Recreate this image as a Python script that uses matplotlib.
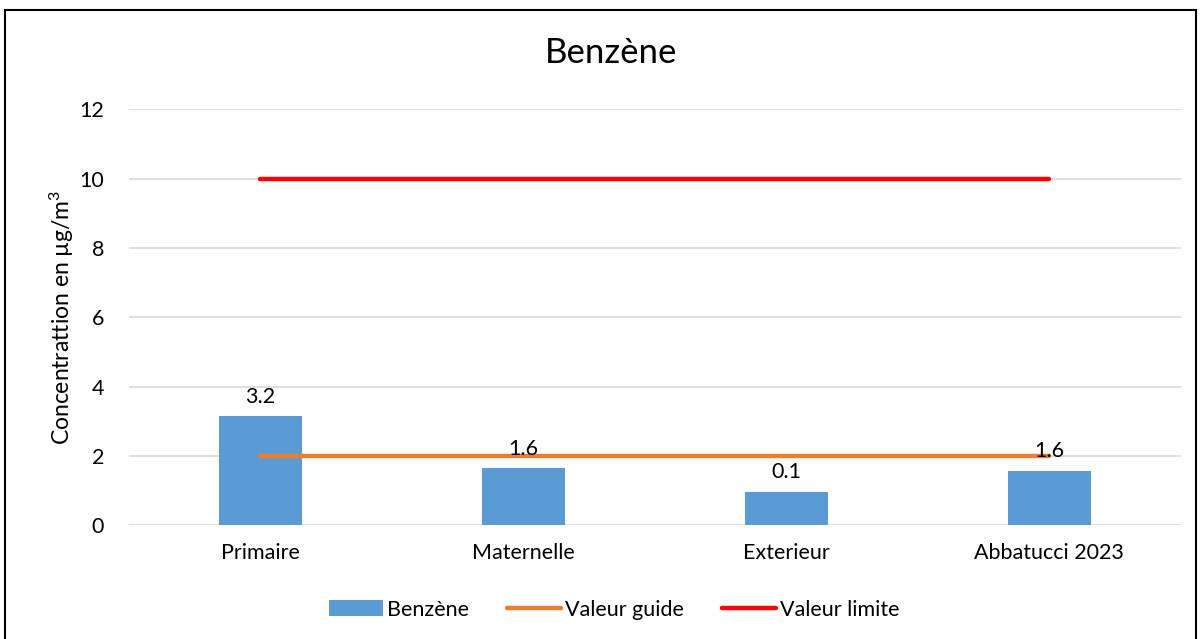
import matplotlib
matplotlib.use("Agg")
import matplotlib.pyplot as plt
from matplotlib.patches import Rectangle
import numpy as np

plt.rcParams['font.family'] = ['Lato', 'DejaVu Sans']
plt.rcParams['mathtext.fontset'] = 'custom'
plt.rcParams['mathtext.rm'] = 'Lato'
plt.rcParams['mathtext.it'] = 'Lato'

# donnees
sites = ["Primaire", "Maternelle", "Exterieur", "Abbatucci 2023"]
benzene = [3.14, 1.64, 0.96, 1.57]
etiquettes = ["3.2", "1.6", "0.1", "1.6"]
valeur_guide = [2, 2, 2, 2]
valeur_limite = [10, 10, 10, 10]

x = np.arange(len(sites))

fig = plt.figure(figsize=(12, 6.39), dpi=100)
ax = fig.add_axes([0.1075, 0.178, 0.8765, 0.651])

bars = ax.bar(x, benzene, 0.315, color="#5B9BD5", label="Benzène", zorder=2)
l1, = ax.plot(x, valeur_guide, color="#ED7D31", lw=3.2, solid_capstyle="round",
              label="Valeur guide", zorder=3)
l2, = ax.plot(x, valeur_limite, color="#FF0000", lw=3.2, solid_capstyle="round",
              label="Valeur limite", zorder=3)

for rect, txt in zip(bars, etiquettes):
    ax.annotate(txt, (rect.get_x() + rect.get_width() / 2, rect.get_height()),
                xytext=(0, 7), textcoords="offset points",
                ha="center", va="bottom", fontsize=15.5)

ax.set_xlim(-0.5, 3.5)
ax.set_ylim(0, 12)
ax.set_yticks(range(0, 13, 2))
ax.set_xticks(x, sites)
ax.tick_params(length=0, labelsize=15.5)
ax.tick_params(axis="y", pad=18)
ax.tick_params(axis="x", pad=13)
ax.grid(axis="y", color="#D9D9D9", lw=1.2, zorder=0)
for s in ax.spines.values():
    s.set_visible(False)

ax.set_ylabel("Concentrattion en µg/m$^3$", fontsize=16.5, labelpad=2)
fig.text(0.509, 0.917, "Benzène", ha="center", va="center", fontsize=25)

leg = fig.legend([bars, l1, l2], ["Benzène", "Valeur guide", "Valeur limite"],
                 loc="center", bbox_to_anchor=(0.512, 0.046), ncols=3,
                 frameon=False, fontsize=15.5, handlelength=2.5,
                 handletextpad=0.2, columnspacing=1.75, handleheight=0.8)

fig.patches.append(Rectangle((0.004, -0.01), 0.993, 0.995,
                             transform=fig.transFigure, fill=False,
                             edgecolor="black", lw=1.5))

fig.savefig("out.png", dpi=100)
